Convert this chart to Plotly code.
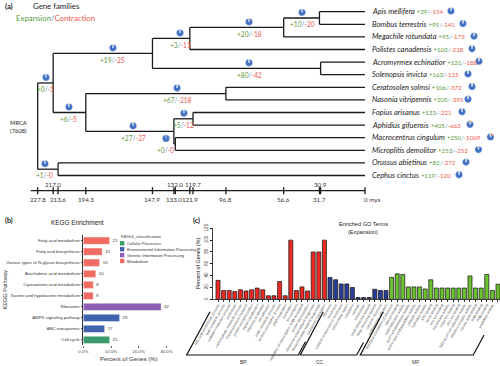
import plotly.graph_objects as go

W, H = 500, 366

# ---------------- panel (a): gene family expansion / contraction ----------------
species = ["Apis mellifera", "Bombus terrestris", "Megachile rotundata", "Polistes canadensis",
           "Acromyrmex echinatior", "Solenopsis invicta", "Ceratosolen solmsi", "Nasonia vitripennis",
           "Fopius arisanus", "Aphidius gifuensis", "Macrocentrus cingulum", "Microplitis demolitor",
           "Orussus abietinus", "Cephus cinctus"]
tip_expansion = [39, 95, 95, 103, 131, 163, 106, 205, 133, 405, 250, 253, 82, 119]
tip_contraction = [154, 141, 173, 218, 188, 125, 372, 395, 221, 663, 1009, 253, 272, 120]
total_families = 7608

node_names = ["root", "n217", "aculeata", "n121", "bees", "apis_bombus", "ants",
              "n194", "chalcid", "braconid", "n119", "n132", "symphyta"]
node_ages = [227.8, 217.0, 147.9, 121.9, 56.6, 31.7, 30.9, 194.3, 96.8, 133.0, 119.7, 132.0, 213.6]
node_children = [["n217", "symphyta"], ["aculeata", "n194"], ["n121", "ants"],
                 ["bees", "Polistes canadensis"], ["apis_bombus", "Megachile rotundata"],
                 ["Apis mellifera", "Bombus terrestris"], ["Acromyrmex echinatior", "Solenopsis invicta"],
                 ["chalcid", "braconid"], ["Ceratosolen solmsi", "Nasonia vitripennis"],
                 ["n119", "n132"], ["Fopius arisanus", "Aphidius gifuensis"],
                 ["Macrocentrus cingulum", "Microplitis demolitor"], ["Orussus abietinus", "Cephus cinctus"]]
node_expansion = [None, 0, 19, 3, 20, 10, 80, 6, 67, 27, 5, 0, 1]
node_contraction = [None, 1, 25, 11, 18, 20, 42, 5, 218, 37, 12, 0, 0]

time_ticks_top = [217.0, 132.0, 119.7, 30.9]
time_ticks_bottom = [227.8, 213.6, 194.3, 147.9, 133.0, 121.9, 96.8, 56.6, 31.7, 0.0]

# ---------------- panel (b): KEGG enrichment ----------------
kegg_pathways = ["Fatty acid metabolism", "Fatty acid biosynthesis", "Various types of N-glycan biosynthesis",
                 "Arachidonic acid metabolism", "Cyanoamino acid metabolism",
                 "Taurine and hypotaurine metabolism", "Ribosome", "AMPK signaling pathway",
                 "ABC transporters", "Cell cycle"]
kegg_percent = [9.5, 6.8, 5.9, 4.5, 3.6, 3.6, 28.1, 13.1, 7.7, 9.5]
kegg_counts = [21, 15, 13, 10, 8, 8, 62, 29, 17, 21]
kegg_class = ["Metabolism"] * 6 + ["Genetic Information Processing", "Environmental Information Processing",
                                   "Environmental Information Processing", "Cellular Processes"]
kegg_legend = ["Cellular Processes", "Environmental Information Processing",
               "Genetic Information Processing", "Metabolism"]

# ---------------- panel (c): enriched GO terms (expansion) ----------------
go_bp_terms = ["fatty acid biosynthetic process", "lipid metabolic process", "oxidation-reduction process",
               "proteolysis", "carbohydrate metabolic process", "transmembrane transport",
               "protein phosphorylation", "signal transduction", "response to stimulus", "cell adhesion",
               "chitin metabolic process", "sensory perception of smell", "DNA integration", "translation",
               "ion transport", "regulation of transcription, DNA-templated", "protein glycosylation",
               "ribosomal small subunit biogenesis", "ribosomal large subunit biogenesis",
               "cytoplasmic translation"]
go_bp_values = [32, 15, 15, 13, 16, 14, 16, 19, 16, 6, 6, 30, 6, 100, 15, 21, 14, 80, 80, 100]
go_cc_terms = ["ribosome", "membrane", "integral component of membrane", "extracellular region",
               "cytoplasm", "nucleus", "intracellular", "small ribosomal subunit",
               "large ribosomal subunit", "cytosolic ribosome", "endoplasmic reticulum"]
go_cc_values = [37, 33, 26, 26, 20, 3, 3, 3, 17, 15, 15]
go_mf_terms = ["structural constituent of ribosome", "odorant binding", "oxidoreductase activity",
               "acyl-CoA desaturase activity", "serine-type endopeptidase activity", "catalytic activity",
               "hydrolase activity", "ATP binding", "heme binding", "iron ion binding",
               "transferase activity", "metal ion binding", "zinc ion binding",
               "fatty-acyl-CoA reductase activity", "olfactory receptor activity",
               "nucleic acid binding", "DNA binding", "RNA binding", "peptidase activity",
               "carboxylesterase activity"]
go_mf_values = [37, 43, 42, 21, 21, 21, 17.5, 33, 19, 19, 19, 19, 19, 19, 39.5, 19, 19, 42, 15, 25.5]

# ---------------- styling / layout constants ----------------
X0, SX = 365.0, 1.437     # pixel of 0 mya, pixels per million years
Y0, SY = 11.7, 12.6       # pixel of first tip, pixels per tip
AXIS_Y_PX = 190.7
FA = "Lato"
FB = "Liberation Sans"
GREEN, RED, SLASH = "#5a9a3c", "#f0584a", "#7090c8"
PIE_BLUE, PIE_RED, PIE_GREEN = "#4472c4", "#e8442f", "#70ad47"
# branch label positions (mya) for each non-root node, same order as node_names
branch_label_age = [None, 222.0, 175.4, 128.7, 80.7, 43.8, 80.7, 206.0, 130.8, 161.4, 126.0, 138.5, 222.7]
tip_pie_px = [451, 463, 474, 472, 479, 468, 472, 468, 462, 470, 490.5, 478.5, 466, 459]

def tx(age):
    return X0 - SX * age

def ty(i):
    return Y0 + SY * i

tip_index = {s: i for i, s in enumerate(species)}
node_index = {n: k for k, n in enumerate(node_names)}

def ypos(name):
    if name in tip_index:
        return float(tip_index[name])
    kids = node_children[node_index[name]]
    return sum(ypos(c) for c in kids) / len(kids)

def agep(name):
    return 0.0 if name in tip_index else node_ages[node_index[name]]

fig = go.Figure()
annotations = []
shapes = []

def ann(x, y, text, size, color="#222", family=FA, xanchor="center", yanchor="middle", angle=0):
    annotations.append(dict(x=x / W, y=1 - y / H, xref="paper", yref="paper", text=text,
                            showarrow=False, font=dict(size=size, color=color, family=family),
                            xanchor=xanchor, yanchor=yanchor, textangle=angle, borderpad=0))

def numtxt(e, c):
    return (f"<span style='color:{GREEN}'>+{e}</span><span style='color:{SLASH}'>/</span>"
            f"<span style='color:{RED}'>-{c}</span>")

def add_pie(cx, cy, e, c, d=7.4):
    fig.add_trace(go.Pie(values=[c, total_families - e - c, e], labels=["c", "u", "e"],
                         marker=dict(colors=[PIE_RED, PIE_BLUE, PIE_GREEN], line=dict(color="white", width=0.4)),
                         sort=False, direction="clockwise", rotation=0, textinfo="none",
                         hoverinfo="skip", showlegend=False, automargin=False,
                         domain=dict(x=[(cx - d / 2) / W, (cx + d / 2) / W],
                                     y=[1 - (cy + d / 2) / H, 1 - (cy - d / 2) / H])))

# tree edges
ex, ey = [], []
for k, n in enumerate(node_names):
    a = node_ages[k]
    ys = [ypos(c) for c in node_children[k]]
    ex += [a, a, None]
    ey += [min(ys), max(ys), None]
    for c in node_children[k]:
        ex += [a, agep(c), None]
        ey += [ypos(c), ypos(c), None]
fig.add_trace(go.Scatter(x=ex, y=ey, mode="lines", line=dict(color="#1a1a1a", width=1.3),
                         hoverinfo="skip", showlegend=False, xaxis="x", yaxis="y"))

# time axis
axis_i = (AXIS_Y_PX - Y0) / SY
all_ticks = time_ticks_top + time_ticks_bottom
fig.add_trace(go.Scatter(x=[232.6, 0.0], y=[axis_i, axis_i], mode="lines",
                         line=dict(color="#1a1a1a", width=1.2), hoverinfo="skip", showlegend=False,
                         xaxis="x", yaxis="y"))
fig.add_trace(go.Scatter(x=all_ticks, y=[axis_i] * len(all_ticks), mode="markers",
                         marker=dict(symbol="line-ns", size=5, line=dict(color="#1a1a1a", width=1.3)),
                         hoverinfo="skip", showlegend=False, xaxis="x", yaxis="y"))
for v in time_ticks_top:
    ann(tx(v), AXIS_Y_PX - 6.5, f"{v:.1f}", 6.2, "#333")
for v in time_ticks_bottom:
    if v == 0:
        ann(tx(v) - 2.5, AXIS_Y_PX + 8.6, "0 mya", 6.2, "#333", xanchor="left")
    else:
        ann(tx(v), AXIS_Y_PX + 8.6, f"{v:.1f}", 6.2, "#333")

# branch labels and pies
for k, n in enumerate(node_names):
    if node_expansion[k] is None:
        continue
    cx = tx(branch_label_age[k])
    cy = ty(ypos(n))
    ann(cx, cy + 6.2, numtxt(node_expansion[k], node_contraction[k]), 6.6)
    add_pie(cx, cy - 5.6, node_expansion[k], node_contraction[k])

# tip labels and pies
for i, s in enumerate(species):
    ann(371, ty(i), f"<i>{s}</i> <span style='font-size:6.1px'>{numtxt(tip_expansion[i], tip_contraction[i])}</span>",
        7.5, "#222", xanchor="left")
    add_pie(tip_pie_px[i], ty(i) - 0.8, tip_expansion[i], tip_contraction[i])

ann(18.5, ty(ypos("root")), "MRCA<br>(7608)", 5.8, "#222")
ann(4, 6.5, "<b>(a)</b>", 7.5, "#222", xanchor="left")
ann(56, 6.5, "Gene families", 7.8, "#222")
ann(15, 17.5, f"<span style='color:{GREEN}'>Expansion</span><span style='color:{SLASH}'>/</span>"
               f"<span style='color:{RED}'>Contraction</span>", 7.8, xanchor="left")

# ---------------- panel (b) ----------------
kegg_colors = {"Cellular Processes": "#3a9a6c", "Environmental Information Processing": "#3f64ad",
               "Genetic Information Processing": "#8c5eb6", "Metabolism": "#f26b62"}
fig.add_trace(go.Bar(x=kegg_percent, y=kegg_pathways, orientation="h", width=0.66,
                     marker=dict(color=[kegg_colors[c] for c in kegg_class],
                                 line=dict(color="rgba(255,255,255,0.7)", width=0.6)),
                     text=[str(c) for c in kegg_counts], textposition="outside",
                     textfont=dict(size=4.3, color="#333", family=FB), cliponaxis=False,
                     hoverinfo="skip", showlegend=False, xaxis="x2", yaxis="y2"))
ann(4, 220, "<b>(b)</b>", 7.2, "#222", xanchor="left")
ann(77.5, 222, "KEGG Enrichment", 6.4, "#222", family=FB)
ann(4.5, 290, "KEGG Pathway", 5.6, "#333", family=FB, angle=-90)
ann(129, 358.5, "Percent of Genes (%)", 6.0, "#333", family=FB)
ann(119.5, 236, "KEGG_classification", 4.4, "#333", family=FB, xanchor="left")
for j, c in enumerate(kegg_legend):
    yy = 243.3 + 5.9 * j
    shapes.append(dict(type="rect", xref="paper", yref="paper", x0=120 / W, x1=124.3 / W,
                       y0=1 - (yy + 2.2) / H, y1=1 - (yy - 2.2) / H,
                       fillcolor=kegg_colors[c], line=dict(width=0)))
    ann(126, yy, c, 4.1, "#333", family=FB, xanchor="left")

# ---------------- panel (c) ----------------
go_terms = go_bp_terms + go_cc_terms + go_mf_terms
nb, nc, nm = len(go_bp_values), len(go_cc_values), len(go_mf_values)
for vals, start, col in [(go_bp_values, 0, "#ee2a24"), (go_cc_values, nb, "#2a3f93"),
                         (go_mf_values, nb + nc, "#6cc230")]:
    fig.add_trace(go.Bar(x=list(range(start, start + len(vals))), y=vals, width=0.72,
                         marker=dict(color=col, line=dict(color="#111", width=0.7)),
                         hoverinfo="skip", showlegend=False, xaxis="x3", yaxis="y3"))
ann(192, 220, "<b>(c)</b>", 7.2, "#222", xanchor="left")
ann(363, 224, "Enriched GO Terms", 5.6, "#222", family=FB)
ann(363, 231.5, "(Expansion)", 5.6, "#222", family=FB)
ann(197.5, 264, "Percent of Genes (%)", 5.4, "#222", family=FB, angle=-90)

def pth(points):
    return "M " + " L ".join(f"{x / W:.5f},{1 - y / H:.5f}" for x, y in points)

for pts in [[(210, 311.7), (186.7, 355), (298.3, 355), (305.5, 341.7)],
            [(323.3, 311.7), (300.3, 355), (356.7, 355), (363.5, 342.5)],
            [(383.3, 311.7), (360.3, 355), (473.3, 355), (484, 335)]]:
    shapes.append(dict(type="path", xref="paper", yref="paper", path=pth(pts),
                       line=dict(color="#111", width=1.2)))
ann(243, 362, "BP", 5.0, "#333", family=FB)
ann(320, 362, "CC", 5.0, "#333", family=FB)
ann(415, 362, "MF", 5.0, "#333", family=FB)

tree_xr = [X0 / SX, (X0 - W) / SX]
tree_yr = [(H - Y0) / SY, -Y0 / SY]
fig.update_layout(
    width=W, height=H, margin=dict(l=0, r=0, t=0, b=0, autoexpand=False),
    paper_bgcolor="white", plot_bgcolor="rgba(0,0,0,0)", barmode="overlay",
    annotations=annotations, shapes=shapes, showlegend=False,
    xaxis=dict(domain=[0, 1], range=tree_xr, visible=False, fixedrange=True, automargin=False),
    yaxis=dict(domain=[0, 1], range=tree_yr, visible=False, fixedrange=True, automargin=False),
    xaxis2=dict(domain=[83.3 / W, 175 / W], range=[0, 33.1], anchor="y2", automargin=False,
                tickvals=[0, 10, 20, 30], ticktext=["0.0%", "10.0%", "20.0%", "30.0%"],
                tickfont=dict(size=4.4, color="#444", family=FB), ticks="outside", ticklen=1.5,
                tickcolor="#666", showgrid=False, zeroline=False, showline=False),
    yaxis2=dict(domain=[1 - 345.4 / H, 1 - 235.2 / H], anchor="x2", categoryorder="array",
                categoryarray=kegg_pathways, autorange="reversed", automargin=False,
                tickfont=dict(size=4.3, color="#333", family=FB), ticks="outside", ticklen=1.5,
                tickcolor="#444", showgrid=False, showline=True, linecolor="#333", linewidth=1.2),
    xaxis3=dict(domain=[212.7 / W, 1], range=[-0.946, 50.36], anchor="y3", automargin=False,
                tickvals=list(range(nb + nc + nm)), ticktext=go_terms, tickangle=-60,
                tickfont=dict(size=3.5, color="#555", family=FB), ticks="outside", ticklen=1.5,
                tickcolor="#333", showgrid=False, zeroline=False, showline=True,
                linecolor="#111", linewidth=0.8),
    yaxis3=dict(domain=[1 - 299.3 / H, 1 - 228.3 / H], range=[0, 120], anchor="x3", automargin=False,
                tickvals=[0, 20, 40, 60, 80, 100, 120], tickangle=-90,
                tickfont=dict(size=4.6, color="#333", family=FB), ticks="outside", ticklen=2,
                tickcolor="#111", showgrid=False, zeroline=False, showline=True,
                linecolor="#111", linewidth=0.8),
)
fig.write_html("out.html", config={"displayModeBar": False, "staticPlot": True},
               post_script="document.body.style.margin='0px';document.body.style.overflow='hidden';")
